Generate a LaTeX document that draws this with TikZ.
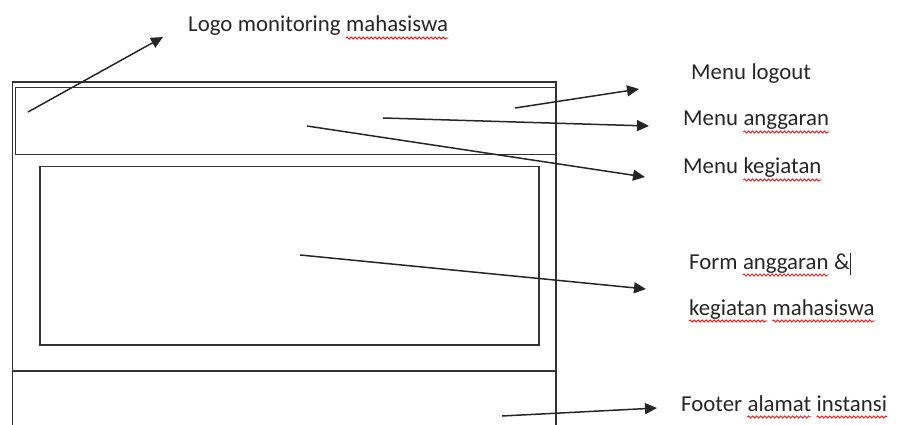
\documentclass[tikz,border=0pt]{standalone}
\usepackage{fontspec}
\setmainfont{Carlito}
\usetikzlibrary{arrows.meta,decorations.pathmorphing}
\begin{document}
\begin{tikzpicture}[x=1pt,y=-1pt,
  frame/.style={draw, line width=1.5pt, black!80},
  box/.style={frame, rectangle, anchor=north west, inner sep=0pt},
  word/.style={inner sep=0pt, anchor=base west, font=\fontsize{22.8}{27}\selectfont, text=black!85},
  arr/.style={draw, line width=1.5pt, black!85, -{Triangle[length=12pt,width=11pt]}},
  spell/.style={draw=red, line width=0.8pt, decorate, decoration={snake, segment length=4pt, amplitude=1.1pt}}]
\useasboundingbox (0,0) rectangle (897,425);
% frame
\draw[frame] (12.5,425) -- (12.5,82) -- (556,82) -- (556,425);
\node[box, minimum width=540.5pt, minimum height=67pt] (header) at (14.5,87) {};
\node[box, minimum width=499pt, minimum height=178pt] (content) at (39,166) {};
\draw[frame] (12.5,371) -- (556,371);
% labels
\node[word] (l1) at (188,32) {Logo};
\node[word] (l2) at ([xshift=5.1pt]l1.base east) {monitoring};
\node[word] (l3) at ([xshift=5.1pt]l2.base east) {mahasiswa};
\node[word] (o1) at (691,80) {Menu};
\node[word] (o2) at ([xshift=5.1pt]o1.base east) {logout};
\node[word] (a1) at (683,126) {Menu};
\node[word] (a2) at ([xshift=5.1pt]a1.base east) {anggaran};
\node[word] (k1) at (683,174) {Menu};
\node[word] (k2) at ([xshift=5.1pt]k1.base east) {kegiatan};
\node[word] (f1) at (689,269) {Form};
\node[word] (f2) at ([xshift=5.1pt]f1.base east) {anggaran};
\node[word] (f3) at ([xshift=5.1pt]f2.base east) {\&\rule[-6pt]{1pt}{22pt}};
\node[word] (g1) at (689,315) {kegiatan};
\node[word] (g2) at ([xshift=5.1pt]g1.base east) {mahasiswa};
\node[word] (t1) at (681,411) {Footer};
\node[word] (t2) at ([xshift=5.1pt]t1.base east) {alamat};
\node[word] (t3) at ([xshift=5.1pt]t2.base east) {instansi};
% spell-check marks
\foreach \w in {l3,a2,k2,f2,g1,g2,t2,t3}
  \draw[spell] ([yshift=-6pt]\w.base west) -- ([yshift=-6pt]\w.base east);
% arrow ends
\coordinate (logoS) at (28,112);   \coordinate (logoE) at (163,37);
\coordinate (outS) at (515,108);   \coordinate (outE) at (639,89);
\coordinate (angS) at (383,118);   \coordinate (angE) at (649,126);
\coordinate (kegS) at (307,126);   \coordinate (kegE) at (645,177);
\coordinate (formS) at (300,255);  \coordinate (formE) at (646,289);
\coordinate (footS) at (502,416);  \coordinate (footE) at (657,408);
\draw[arr] (logoS) -- (logoE);
\draw[arr] (outS) -- (outE);
\draw[arr] (angS) -- (angE);
\draw[arr] (kegS) -- (kegE);
\draw[arr] (formS) -- (formE);
\draw[arr] (footS) -- (footE);
\end{tikzpicture}
\end{document}
